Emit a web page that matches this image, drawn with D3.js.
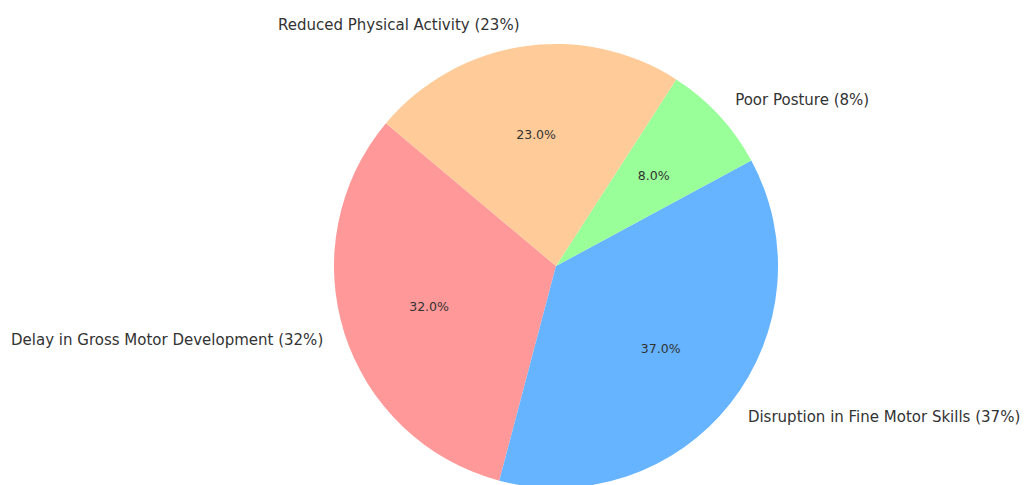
<!DOCTYPE html>
<html>
<head>
<meta charset="utf-8">
<script src="https://cdn.jsdelivr.net/npm/d3@7"></script>
<style>
  body { margin: 0; background: #fff; }
  svg { display: block; font-family: "DejaVu Sans", sans-serif; }
</style>
</head>
<body>
<svg width="1024" height="485"></svg>
<script>
var labels = ['Delay in Gross Motor Development', 'Disruption in Fine Motor Skills', 'Poor Posture', 'Reduced Physical Activity'];
var values = [32, 37, 8, 23];
var colors = ['#ff9999', '#66b3ff', '#99ff99', '#ffcc99'];

var width = 1024;
var height = 485;
var cx = 556, cy = 266, radius = 222;
var startAngle = 140; // degrees, counterclockwise from 3 o'clock (matplotlib style)

var data = labels.map((l, i) => ({label: l, value: values[i], color: colors[i]}));

var svg = d3.select('svg');
var g = svg.append('g').attr('transform', 'translate(' + [cx, cy] + ')');

// convert matplotlib angles (ccw from east) to d3 angles (cw from north)
var toD3 = deg => (90 - deg) * Math.PI / 180;
var pie = d3.pie().sort(null).value(d => d.value)
  .startAngle(toD3(startAngle))
  .endAngle(toD3(startAngle + 360));

var arc = d3.arc().innerRadius(0).outerRadius(radius);
var arcs = pie(data);

g.selectAll('path').data(arcs).enter().append('path')
  .attr('d', arc)
  .attr('fill', d => d.data.color);

var total = d3.sum(values);
var mid = d => (d.startAngle + d.endAngle) / 2;

// percentage labels at 0.6 radius
g.selectAll('text.pct').data(arcs).enter().append('text')
  .attr('class', 'pct')
  .attr('x', d => Math.sin(mid(d)) * radius * 0.6)
  .attr('y', d => -Math.cos(mid(d)) * radius * 0.6)
  .attr('text-anchor', 'middle')
  .attr('dominant-baseline', 'central')
  .attr('font-size', 12.5)
  .attr('fill', '#333')
  .text(d => (d.data.value / total * 100).toFixed(1) + '%');

// outer labels at 1.1 radius
g.selectAll('text.lbl').data(arcs).enter().append('text')
  .attr('class', 'lbl')
  .attr('x', d => Math.sin(mid(d)) * radius * 1.1)
  .attr('y', d => -Math.cos(mid(d)) * radius * 1.1)
  .attr('text-anchor', d => Math.sin(mid(d)) < 0 ? 'end' : 'start')
  .attr('dominant-baseline', 'central')
  .attr('font-size', 15)
  .attr('fill', '#333')
  .text(d => d.data.label + ' (' + d.data.value + '%)');
</script>
</body>
</html>
